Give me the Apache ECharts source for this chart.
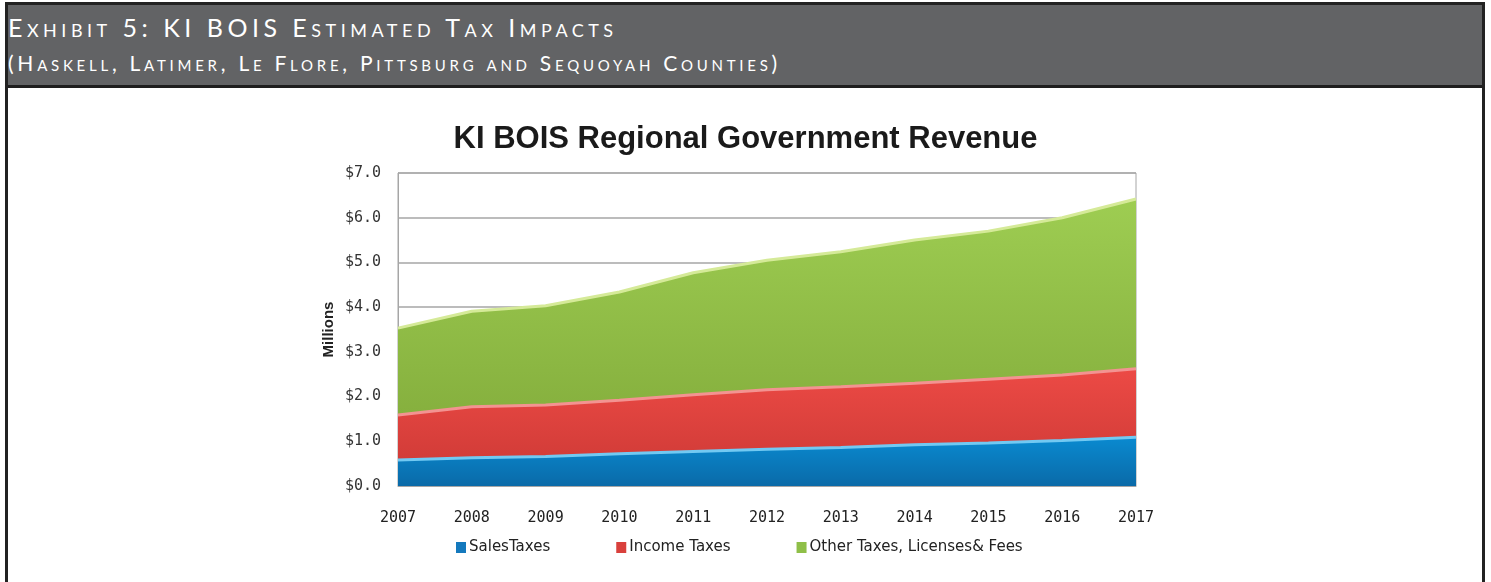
<!DOCTYPE html>
<html>
<head>
<meta charset="utf-8">
<script src="https://cdn.jsdelivr.net/npm/echarts@6/dist/echarts.min.js"></script>
<style>
	html, body { margin: 0; padding: 0; background: #fff; }
	#frame {
		position: absolute; left: 5px; top: 2px; width: 1480px; height: 620px;
		border: 3px solid #222; box-sizing: border-box;
	}
	#header {
		position: absolute; left: 0; top: 0; right: 0; height: 80px;
		background: #626365; border-bottom: 3px solid #1e1e1e;
		color: #fff; font-family: Lato, 'Open Sans', sans-serif; font-weight: 400;
		font-variant: small-caps;
	}
	#header .l1 { position: absolute; left: 0; top: 7px; font-size: 25px; letter-spacing: 4.5px; white-space: nowrap; }
	#header .l2 { position: absolute; left: 0; top: 45px; font-size: 21px; letter-spacing: 3.75px; white-space: nowrap; }
	#chart { position: absolute; left: 0; top: 0; width: 1491px; height: 582px; }
</style>
</head>
<body>
<div id="frame">
	<div id="header">
		<div class="l1">Exhibit 5: KI BOIS Estimated Tax Impacts</div>
		<div class="l2">(Haskell, Latimer, Le Flore, Pittsburg and Sequoyah Counties)</div>
	</div>
</div>
<div id="chart"></div>
<script>
// 年份与各项收入（百万美元）
const years = ['2007', '2008', '2009', '2010', '2011', '2012', '2013', '2014', '2015', '2016', '2017']
const salesTaxes = [0.58, 0.63, 0.66, 0.72, 0.77, 0.82, 0.86, 0.92, 0.96, 1.02, 1.09]
const incomeTaxes = [1.01, 1.14, 1.15, 1.20, 1.27, 1.33, 1.36, 1.38, 1.43, 1.46, 1.53]
const otherTaxes = [1.94, 2.14, 2.22, 2.42, 2.73, 2.90, 3.02, 3.20, 3.31, 3.52, 3.80]
const seriesNames = ['SalesTaxes', 'Income Taxes', 'Other Taxes, Licenses& Fees']

const grad = (top, bottom) => new echarts.graphic.LinearGradient(0, 0, 0, 1, [
	{ offset: 0, color: top },
	{ offset: 1, color: bottom }
])

const makeSeries = (name, data, edge, top, bottom, icon) => ({
	name: name,
	type: 'line',
	stack: 'total',
	data: data,
	symbol: 'none',
	lineStyle: { color: edge, width: 3 },
	areaStyle: { color: grad(top, bottom), opacity: 1 },
	itemStyle: { color: icon },
	emphasis: { disabled: true }
})

const chart = echarts.init(document.getElementById('chart'))
chart.setOption({
	animation: false,
	title: {
		text: 'KI BOIS Regional Government Revenue',
		left: 'center',
		top: 119,
		textStyle: { fontFamily: 'Liberation Sans', fontWeight: 'bold', fontSize: 31, color: '#1a1a1a' }
	},
	legend: {
		data: seriesNames,
		left: 451,
		top: 535,
		itemGap: 66,
		itemWidth: 10,
		itemHeight: 11,
		icon: 'rect',
		textStyle: { fontFamily: 'DejaVu Sans', fontSize: 15, color: '#222', padding: [0, 0, 0, -2] }
	},
	grid: {
		left: 398, right: 355, top: 173, bottom: 96,
		show: true, borderColor: '#a6a6a6', borderWidth: 1
	},
	xAxis: {
		type: 'category',
		boundaryGap: false,
		data: years,
		axisLine: { lineStyle: { color: '#a6a6a6' } },
		axisTick: { show: false },
		axisLabel: { margin: 25, fontFamily: 'DejaVu Sans Mono', fontSize: 15, color: '#222' }
	},
	yAxis: {
		type: 'value',
		min: 0, max: 7, interval: 1,
		name: 'Millions',
		nameLocation: 'middle',
		nameGap: 62,
		nameTextStyle: { fontFamily: 'Liberation Sans', fontWeight: 'bold', fontSize: 15, color: '#222' },
		axisLine: { show: true, lineStyle: { color: '#a6a6a6' } },
		axisTick: { show: false },
		axisLabel: {
			margin: 17, fontFamily: 'DejaVu Sans Mono', fontSize: 15, color: '#333',
			formatter: v => '$' + v.toFixed(1)
		},
		splitLine: { lineStyle: { color: '#a6a6a6', width: 1.5 } }
	},
	series: [
		makeSeries(seriesNames[0], salesTaxes, '#72c9f2', '#0a8ad0', '#0a6aa8', '#1479bd'),
		makeSeries(seriesNames[1], incomeTaxes, '#f39391', '#ec4a45', '#d23c38', '#d9403c'),
		makeSeries(seriesNames[2], otherTaxes, '#d5ea98', '#9ecd52', '#86b03e', '#8fbf48')
	]
})
</script>
</body>
</html>
